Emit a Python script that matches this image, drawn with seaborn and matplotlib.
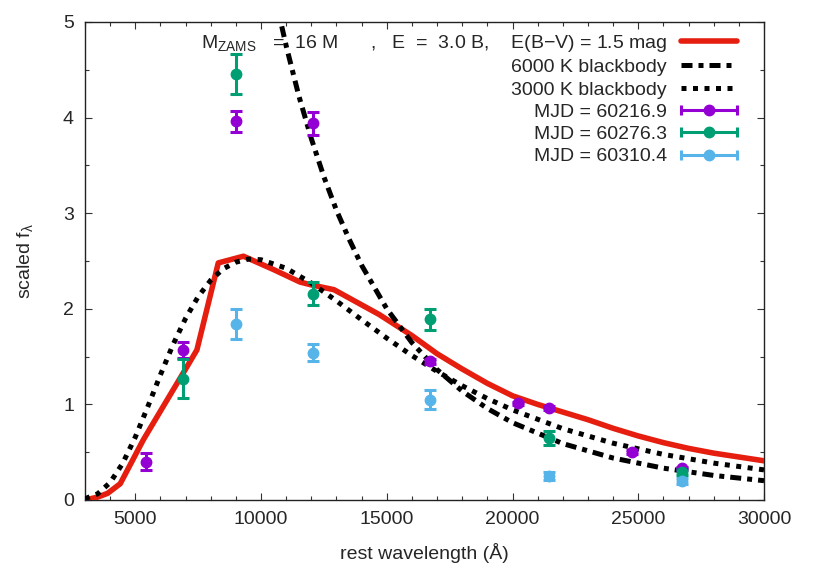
import numpy as np
import matplotlib
matplotlib.use('Agg')
import matplotlib.pyplot as plt
import seaborn as sns
from matplotlib.lines import Line2D
from matplotlib.legend_handler import HandlerBase
from matplotlib.ticker import MultipleLocator

# ---- data ----
model_wl = [3000, 3500, 3900, 4400, 5000, 5320, 6000, 7000, 7450, 8300, 9300, 10500,
            11550, 12000, 12900, 14700, 16000, 17000, 18000, 19000, 20000, 21000,
            22000, 23000, 24000, 25000, 26000, 27000, 28000, 29000, 30000]
model_f = [0.0, 0.03, 0.07, 0.17, 0.47, 0.63, 0.93, 1.37, 1.57, 2.48, 2.55, 2.41,
           2.28, 2.25, 2.20, 1.94, 1.72, 1.53, 1.37, 1.22, 1.09, 1.00,
           0.92, 0.84, 0.75, 0.67, 0.60, 0.54, 0.49, 0.45, 0.41]

bb6_wl = [10500, 11000, 11500, 12000, 12500, 13000, 13500, 14000, 15000, 16000,
          17000, 18000, 19000, 20000, 22000, 24000, 26000, 28000, 30000]
bb6_f = [5.33, 4.75, 4.23, 3.78, 3.38, 3.03, 2.73, 2.455, 2.00, 1.646,
         1.364, 1.139, 0.957, 0.809, 0.590, 0.439, 0.333, 0.257, 0.202]

bb3_wl = [3000, 3500, 4000, 4500, 5000, 5500, 6000, 6500, 7000, 7500, 8000, 8500,
          9000, 9500, 10000, 11000, 12000, 13000, 14000, 15000, 16000, 17000,
          18000, 19000, 20000, 22000, 24000, 26000, 28000, 30000]
bb3_f = [0.014, 0.064, 0.183, 0.384, 0.658, 0.978, 1.310, 1.625, 1.900, 2.127, 2.299, 2.419,
         2.488, 2.520, 2.513, 2.424, 2.269, 2.083, 1.885, 1.693, 1.511, 1.345,
         1.195, 1.061, 0.943, 0.746, 0.594, 0.477, 0.386, 0.315]

ep1_wl = [5410, 6900, 9000, 12050, 16700, 20200, 21450, 24750, 26750]
ep1_f = [0.40, 1.57, 3.96, 3.94, 1.45, 1.01, 0.96, 0.50, 0.33]
ep1_err = [0.09, 0.08, 0.11, 0.12, 0.03, 0.02, 0.02, 0.02, 0.02]

ep2_wl = [6900, 9000, 12050, 16700, 21450, 26750]
ep2_f = [1.27, 4.46, 2.16, 1.89, 0.65, 0.29]
ep2_err = [0.20, 0.21, 0.12, 0.11, 0.07, 0.03]

ep3_wl = [9000, 12050, 16700, 21450, 26750]
ep3_f = [1.84, 1.54, 1.05, 0.25, 0.20]
ep3_err = [0.16, 0.09, 0.10, 0.04, 0.03]

labels = ['M$_{ZAMS}$   =  16 M      ,   E  =  3.0 B,    E(B\u2212V) = 1.5 mag',
          '6000 K blackbody', '3000 K blackbody',
          'MJD = 60216.9', 'MJD = 60276.3', 'MJD = 60310.4']
ep_colors = ['#9400d3', '#009e73', '#56b4e9']

# ---- style ----
sns.set_theme(style='ticks')
plt.rcParams['font.family'] = ['Liberation Sans', 'DejaVu Sans']
plt.rcParams['mathtext.fontset'] = 'custom'
plt.rcParams['mathtext.rm'] = 'Liberation Sans'
plt.rcParams['mathtext.it'] = 'Liberation Sans'
plt.rcParams['mathtext.default'] = 'regular'
plt.rcParams['font.size'] = 14

fig = plt.figure(figsize=(8.17, 5.72), dpi=100)
ax = fig.add_axes([85 / 817, 72 / 572, 679 / 817, 478 / 572])

sns.lineplot(x=model_wl, y=model_f, color='#e51e10', lw=4.0, sort=False,
             errorbar=None, ax=ax, zorder=3)
sns.lineplot(x=bb6_wl, y=bb6_f, color='black', lw=3.6, sort=False, errorbar=None,
             linestyle=(0, (2.2, 1.2, 1.0, 1.2)), ax=ax, zorder=4)
sns.lineplot(x=bb3_wl, y=bb3_f, color='black', lw=3.6, sort=False, errorbar=None,
             linestyle=(0, (1.0, 1.3)), ax=ax, zorder=4)

for wl, f, err, c in [(ep1_wl, ep1_f, ep1_err, ep_colors[0]),
                      (ep2_wl, ep2_f, ep2_err, ep_colors[1]),
                      (ep3_wl, ep3_f, ep3_err, ep_colors[2])]:
    ax.errorbar(wl, f, yerr=err, fmt='o', color=c, ms=7.5, elinewidth=2.2,
                capsize=4.5, capthick=2.2, zorder=5)

ax.set_xlim(3000, 30000)
ax.set_ylim(0, 5)
ax.xaxis.set_major_locator(MultipleLocator(5000))
ax.xaxis.set_minor_locator(MultipleLocator(1000))
ax.yaxis.set_major_locator(MultipleLocator(1))
ax.yaxis.set_minor_locator(MultipleLocator(0.5))
ax.tick_params(which='both', direction='in', top=True, right=True, color='#333333',
               width=0.8, labelsize=14)
ax.tick_params(which='major', length=5, pad=8)
ax.tick_params(which='minor', length=3)
ax.set_xticks([5000, 10000, 15000, 20000, 25000, 30000])
for s in ax.spines.values():
    s.set_color('#222222')
    s.set_linewidth(1.0)

ax.set_xlabel('rest wavelength (\u00c5)', fontsize=14, labelpad=11)
ax.set_ylabel('scaled f$_\\lambda$', fontsize=14, labelpad=20)


# gnuplot-like error bar sample in the key
class HandlerBar(HandlerBase):
    def create_artists(self, legend, orig_handle, xdescent, ydescent, width, height,
                       fontsize, trans):
        c = orig_handle.get_color()
        y = (height - ydescent) / 2
        x0, x1 = -xdescent, width - xdescent
        bar = Line2D([x0, x1], [y, y], color=c, lw=2.2)
        caps = Line2D([x0, x1], [y, y], ls='none', marker='|', color=c, ms=7, mew=2.2)
        dot = Line2D([(x0 + x1) / 2], [y], ls='none', marker='o', color=c, ms=7.5)
        for a in (bar, caps, dot):
            a.set_transform(trans)
        return [bar, caps, dot]


handles = [Line2D([], [], color='#e51e10', lw=4.0),
           Line2D([], [], color='black', lw=3.6, linestyle=(0, (2.2, 1.2, 1.0, 1.2))),
           Line2D([], [], color='black', lw=3.6, linestyle=(0, (1.0, 1.3)))]
bar_handles = [Line2D([], [], color=c) for c in ep_colors]
leg = ax.legend(handles + bar_handles, labels, loc='upper right',
                bbox_to_anchor=((737 - 85) / 679, 1 - 11 / 478), frameon=False,
                markerfirst=False, handlelength=2.9, handletextpad=0.7,
                labelspacing=0.24, borderpad=0, borderaxespad=0, fontsize=14,
                handler_map={h: HandlerBar() for h in bar_handles})

fig.savefig('out.png', dpi=100)
